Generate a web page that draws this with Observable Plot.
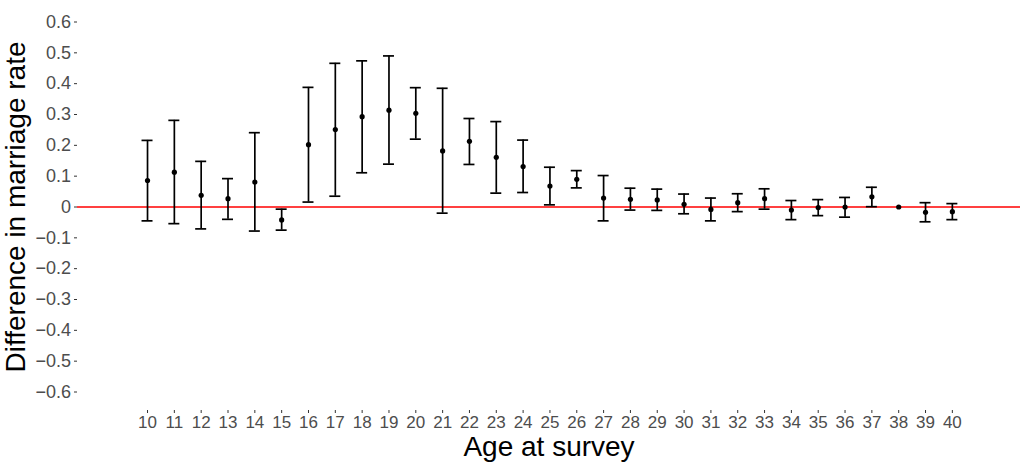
<!DOCTYPE html>
<html>
<head>
<meta charset="utf-8">
<script src="https://cdn.jsdelivr.net/npm/d3@7"></script>
<script src="https://cdn.jsdelivr.net/npm/@observablehq/plot@0.6"></script>
<style>
  html, body { margin: 0; padding: 0; background: #fff; }
  #chart { width: 1027px; height: 466px; }
</style>
</head>
<body>
<div id="chart"></div>
<script>
const ages = [10,11,12,13,14,15,16,17,18,19,20,21,22,23,24,25,26,27,28,29,30,31,32,33,34,35,36,37,38,39,40];
const estimate = [0.086,0.113,0.038,0.027,0.081,-0.042,0.202,0.251,0.293,0.314,0.304,0.182,0.213,0.161,0.131,0.068,0.090,0.029,0.025,0.023,0.009,-0.008,0.014,0.027,-0.010,-0.002,0.000,0.033,0.000,-0.017,-0.015];
const lower = [-0.045,-0.054,-0.071,-0.040,-0.078,-0.075,0.016,0.035,0.111,0.139,0.220,-0.020,0.138,0.045,0.047,0.007,0.062,-0.045,-0.010,-0.011,-0.022,-0.045,-0.015,-0.007,-0.041,-0.028,-0.033,0.001,null,-0.048,-0.041];
const upper = [0.216,0.281,0.148,0.092,0.241,-0.007,0.388,0.466,0.474,0.490,0.387,0.385,0.287,0.277,0.217,0.129,0.118,0.102,0.061,0.058,0.042,0.029,0.043,0.059,0.021,0.024,0.031,0.064,null,0.014,0.011];
const yTicks = [-0.6,-0.5,-0.4,-0.3,-0.2,-0.1,0,0.1,0.2,0.3,0.4,0.5,0.6];

const data = ages.map((a, i) => ({age: a, est: estimate[i], lo: lower[i], hi: upper[i]}));
const bars = data.filter(d => d.lo != null);
const capHalf = 0.205;

const fmt = d => d === 0 ? "0" : d3.format(".1f")(d);

const chart = Plot.plot({
  width: 1027,
  height: 466,
  marginTop: 3,
  marginBottom: 56,
  marginLeft: 77,
  marginRight: 7,
  style: {fontFamily: "'Liberation Sans', Arial, sans-serif", background: "#fff"},
  x: {domain: [7.39, 42.54]},
  y: {domain: [-0.66, 0.66]},
  marks: [
    Plot.axisY({ticks: yTicks, tickFormat: fmt, tickSize: 3, tickPadding: 3.5, fontSize: 18, color: "#4d4d4d", stroke: "#333", label: null}),
    Plot.axisX({ticks: ages, tickFormat: d => String(d), tickSize: 3, tickPadding: 2, fontSize: 17, color: "#4d4d4d", stroke: "#333", label: null}),
    Plot.ruleY([0], {stroke: "#ff0000", strokeWidth: 1.3}),
    Plot.ruleX(bars, {x: "age", y1: "lo", y2: "hi", stroke: "black", strokeWidth: 1.7}),
    Plot.ruleY(bars, {y: "hi", x1: d => d.age - capHalf, x2: d => d.age + capHalf, stroke: "black", strokeWidth: 1.7}),
    Plot.ruleY(bars, {y: "lo", x1: d => d.age - capHalf, x2: d => d.age + capHalf, stroke: "black", strokeWidth: 1.7}),
    Plot.dot(data, {x: "age", y: "est", r: 2.6, fill: "black"}),
    Plot.text(["Age at survey"], {frameAnchor: "bottom", lineAnchor: "middle", dy: 37, fontSize: 28, fill: "black"}),
    Plot.text(["Difference in marriage rate"], {frameAnchor: "left", lineAnchor: "middle", textAnchor: "middle", dx: -61, rotate: -90, fontSize: 28, fill: "black"})
  ]
});
document.getElementById("chart").appendChild(chart);
</script>
</body>
</html>
